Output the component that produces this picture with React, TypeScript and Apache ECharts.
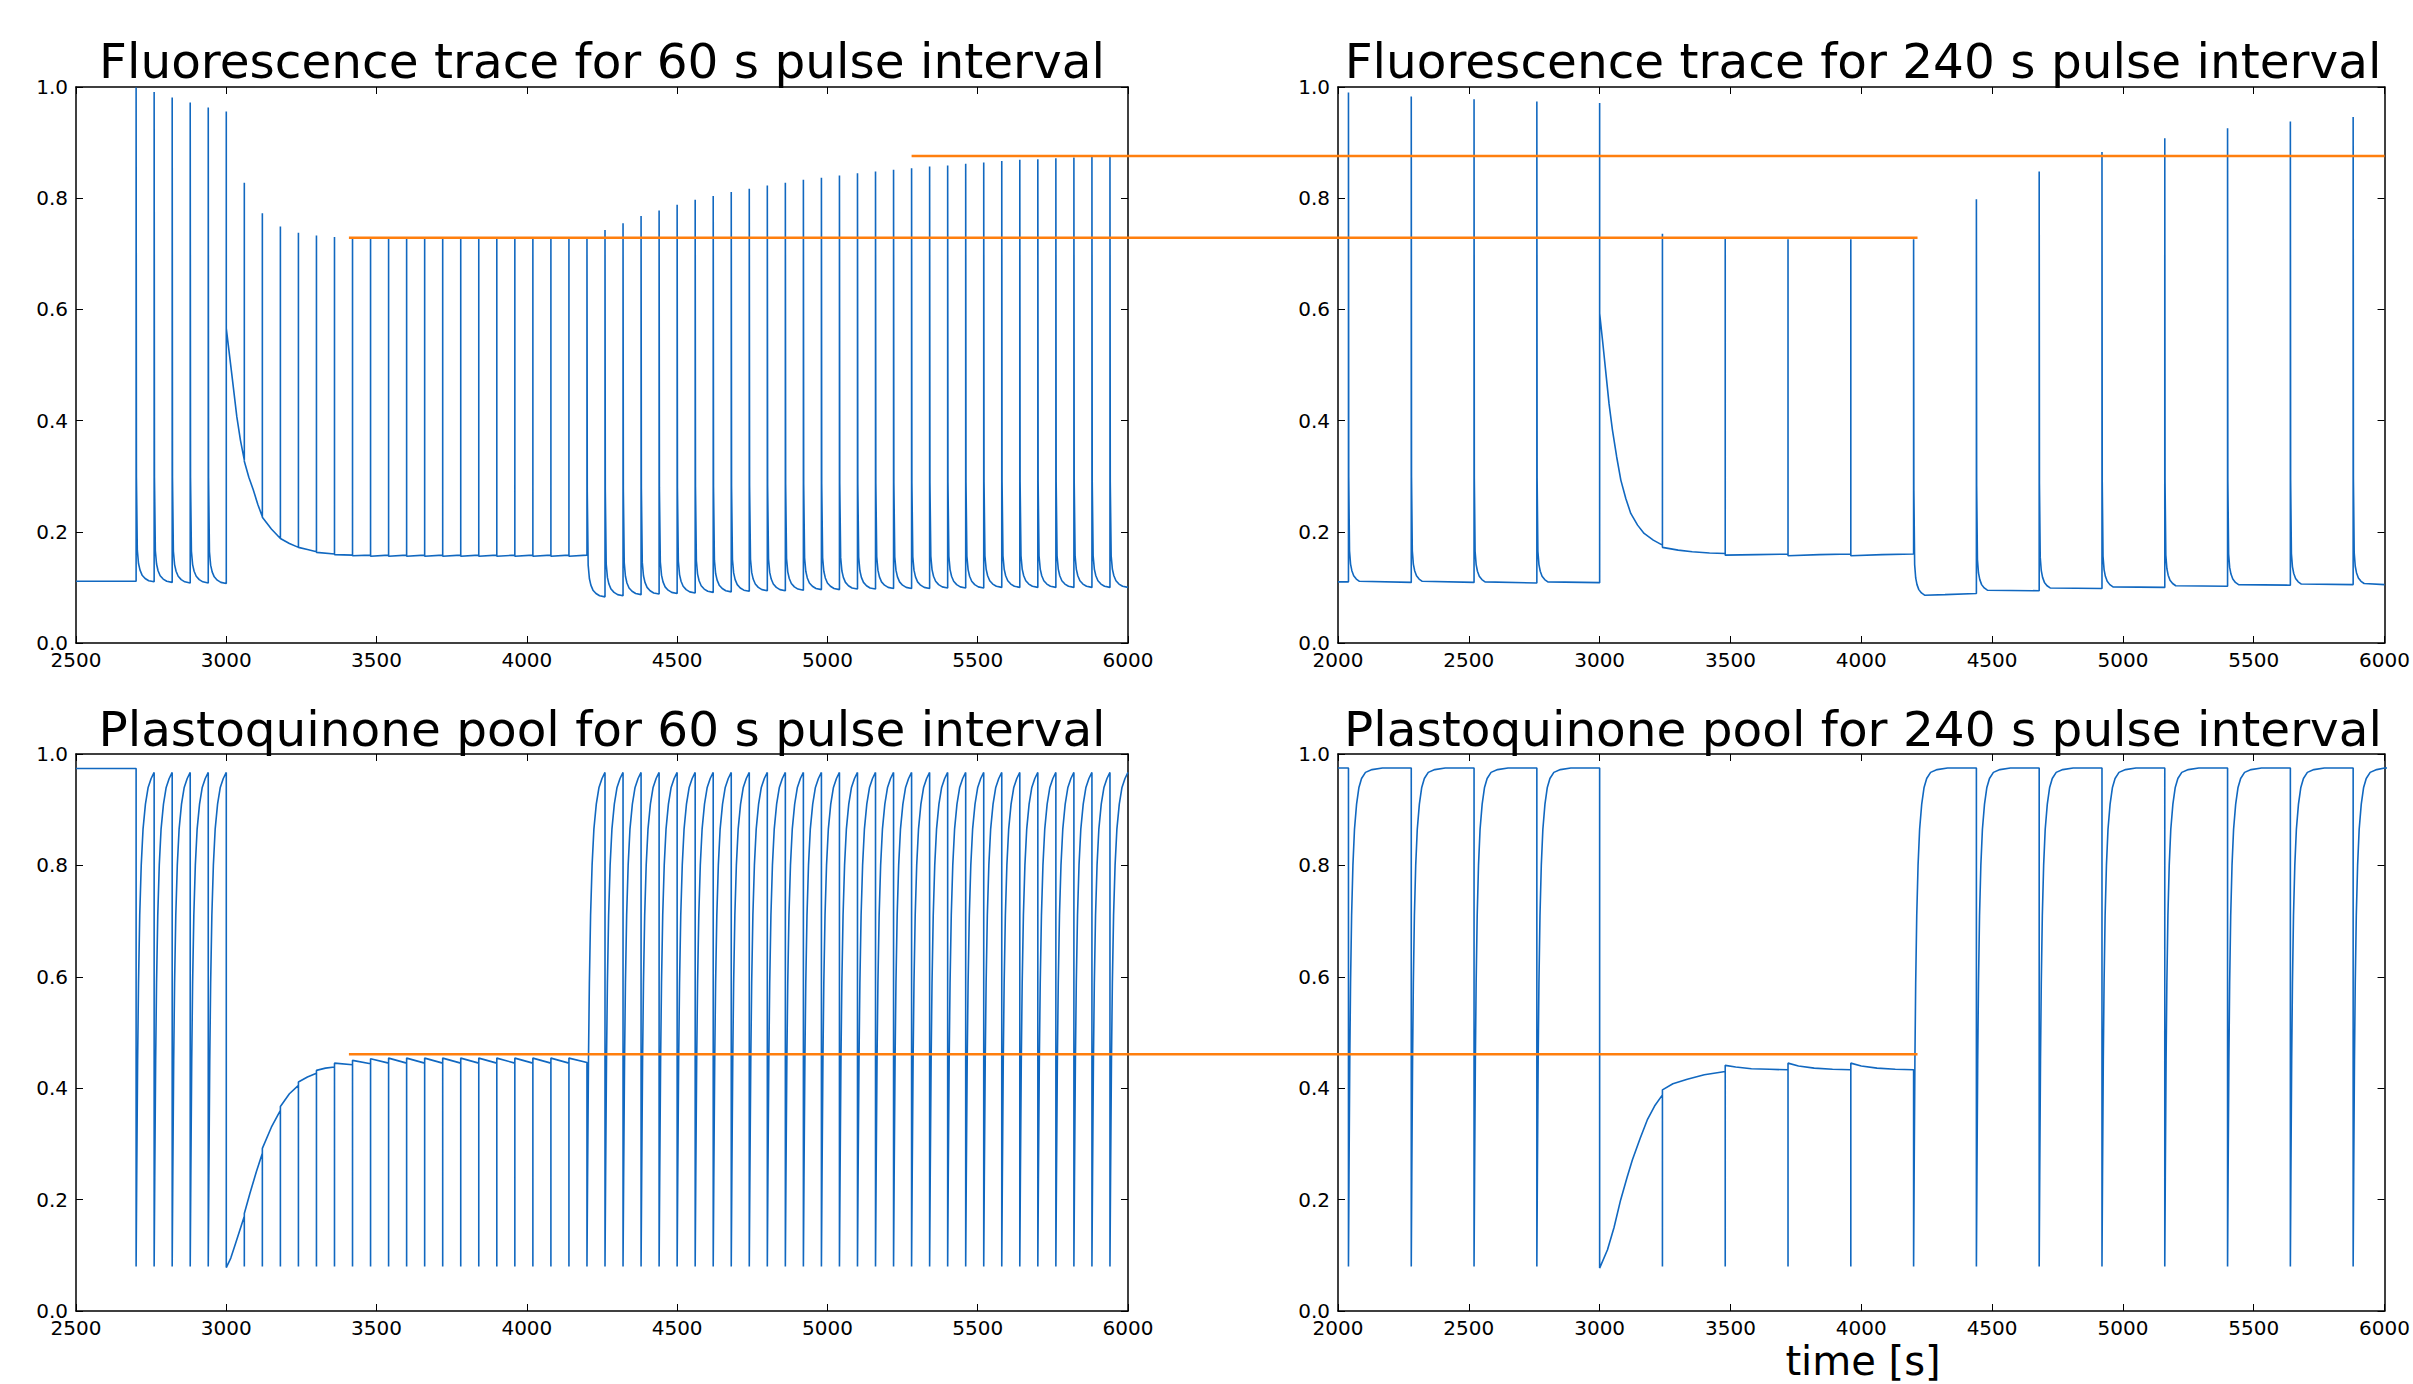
import React, { useEffect, useRef } from "react";
import * as echarts from "echarts";

// ---------------- texts ----------------
const TITLES = [
  "Fluorescence trace for 60 s pulse interval",
  "Fluorescence trace for 240 s pulse interval",
  "Plastoquinone pool for 60 s pulse interval",
  "Plastoquinone pool for 240 s pulse interval",
];
const X_LABEL = "time [s]";

// ---------------- axes ----------------
const X_RANGE_60 = [2500, 6000];
const X_RANGE_240 = [2000, 6000];
const X_TICK_STEP = 500;
const Y_RANGE = [0, 1];
const Y_TICK_STEP = 0.2;

// ---------------- shapes ----------------
// fluorescence tail after a saturating pulse: seconds after pulse / height above settle level
const FL_TAIL_OFFSETS = [1, 4, 8, 13, 20, 30, 42];
const FL_TAIL_EXCESS = [0.19, 0.057, 0.033, 0.021, 0.012, 0.006, 0.002];
// PQ pool recovery after a pulse: seconds after pulse / level
const PQ_RISE_OFFSETS = [2, 5, 8, 12, 17, 23, 31, 40, 50, 65, 90, 130];
const PQ_RISE_LEVELS = [0.24, 0.45, 0.59, 0.71, 0.8, 0.865, 0.91, 0.94, 0.956, 0.967, 0.972, 0.975];

// ---------------- Fluorescence, 60 s ----------------
// plain curve points [t, value]
const fl60Knots = [
  [2500, 0.111], [3018, 0.485], [3035, 0.407], [3047, 0.365], [3075, 0.298], [3090, 0.275],
  [3105, 0.249], [3150, 0.205], [3210, 0.179], [3270, 0.168], [6000, 0.1],
];
// instantaneous spikes [t, before, peak, after]
const fl60Spikes = [
  [3000, 0.107, 0.956, 0.566], [3060, 0.329, 0.828, 0.327], [3120, 0.227, 0.773, 0.226],
  [3180, 0.188, 0.749, 0.188], [3240, 0.172, 0.738, 0.172], [3300, 0.164, 0.733, 0.163],
  [3360, 0.16, 0.73, 0.159], [3420, 0.158, 0.728, 0.157], [3480, 0.158, 0.727, 0.156],
  [3540, 0.158, 0.727, 0.156], [3600, 0.158, 0.727, 0.156], [3660, 0.158, 0.727, 0.156],
  [3720, 0.158, 0.727, 0.156], [3780, 0.158, 0.727, 0.156], [3840, 0.158, 0.727, 0.156],
  [3900, 0.158, 0.727, 0.156], [3960, 0.158, 0.727, 0.156], [4020, 0.158, 0.727, 0.156],
  [4080, 0.158, 0.727, 0.156], [4140, 0.158, 0.727, 0.156],
];
// pulses with fast tail [t, before, peak, settle]
const fl60Pulses = [
  [2700, 0.111, 0.999, 0.11], [2760, 0.11, 0.991, 0.109], [2820, 0.109, 0.981, 0.108],
  [2880, 0.108, 0.972, 0.108], [2940, 0.108, 0.963, 0.107],
  [4200, 0.158, 0.727, 0.083], [4260, 0.083, 0.743, 0.085], [4320, 0.085, 0.755, 0.087],
  [4380, 0.087, 0.768, 0.088], [4440, 0.088, 0.778, 0.089], [4500, 0.089, 0.788, 0.09],
  [4560, 0.09, 0.797, 0.091], [4620, 0.091, 0.804, 0.092], [4680, 0.092, 0.811, 0.093],
  [4740, 0.093, 0.817, 0.094], [4800, 0.094, 0.823, 0.094], [4860, 0.094, 0.828, 0.095],
  [4920, 0.095, 0.833, 0.096], [4980, 0.096, 0.837, 0.096], [5040, 0.096, 0.841, 0.097],
  [5100, 0.097, 0.845, 0.097], [5160, 0.097, 0.848, 0.098], [5220, 0.098, 0.851, 0.098],
  [5280, 0.098, 0.854, 0.098], [5340, 0.098, 0.857, 0.099], [5400, 0.099, 0.859, 0.099],
  [5460, 0.099, 0.862, 0.099], [5520, 0.099, 0.864, 0.1], [5580, 0.1, 0.867, 0.1],
  [5640, 0.1, 0.869, 0.1], [5700, 0.1, 0.87, 0.1], [5760, 0.1, 0.872, 0.1],
  [5820, 0.1, 0.873, 0.1], [5880, 0.1, 0.874, 0.1], [5940, 0.1, 0.875, 0.1],
];

// ---------------- Fluorescence, 240 s ----------------
const fl240Knots = [
  [2000, 0.11], [3012, 0.54], [3024, 0.485], [3036, 0.43], [3049, 0.383], [3065, 0.335],
  [3081, 0.293], [3100, 0.26], [3119, 0.233], [3145, 0.212], [3170, 0.197], [3205, 0.185],
  [3300, 0.167], [3354, 0.164], [3420, 0.162], [3600, 0.159], [3840, 0.159], [4080, 0.159],
  [4320, 0.087], [6000, 0.105],
];
const fl240Spikes = [
  [3000, 0.1085, 0.971, 0.593], [3240, 0.176, 0.736, 0.172], [3480, 0.161, 0.727, 0.158],
  [3720, 0.16, 0.726, 0.157], [3960, 0.16, 0.726, 0.157],
];
const fl240Pulses = [
  [2040, 0.11, 0.99, 0.109], [2280, 0.109, 0.983, 0.109], [2520, 0.109, 0.978, 0.108],
  [2760, 0.108, 0.974, 0.108], [4200, 0.16, 0.726, 0.084], [4440, 0.089, 0.798, 0.093],
  [4680, 0.094, 0.848, 0.097], [4920, 0.098, 0.883, 0.099], [5160, 0.1, 0.908, 0.101],
  [5400, 0.102, 0.926, 0.103], [5640, 0.104, 0.938, 0.104], [5880, 0.105, 0.946, 0.105],
];

// ---------------- Plastoquinone pool, 60 s ----------------
const pq60Knots = [
  [2500, 0.974], [3015, 0.095], [3030, 0.12], [3045, 0.145], [3079, 0.212], [3100, 0.25],
  [3150, 0.33], [3210, 0.39], [3270, 0.42], [3330, 0.436], [6000, 0.967],
];
// spikes down [t, before, bottom, after]
const pq60Spikes = [
  [3000, 0.967, 0.078, 0.078], [3060, 0.17, 0.08, 0.175], [3120, 0.283, 0.08, 0.292],
  [3180, 0.36, 0.08, 0.367], [3240, 0.405, 0.08, 0.411], [3300, 0.427, 0.08, 0.432],
  [3360, 0.438, 0.08, 0.445], [3420, 0.442, 0.08, 0.45], [3480, 0.444, 0.08, 0.453],
  [3540, 0.445, 0.08, 0.454], [3600, 0.445, 0.08, 0.454], [3660, 0.445, 0.08, 0.454],
  [3720, 0.445, 0.08, 0.454], [3780, 0.445, 0.08, 0.454], [3840, 0.445, 0.08, 0.454],
  [3900, 0.445, 0.08, 0.454], [3960, 0.445, 0.08, 0.454], [4020, 0.445, 0.08, 0.454],
  [4080, 0.445, 0.08, 0.454], [4140, 0.445, 0.08, 0.454],
];
// pulses followed by recovery [t, before, bottom]
const pq60Pulses = [
  [2700, 0.974, 0.08], [2760, 0.967, 0.08], [2820, 0.967, 0.08], [2880, 0.967, 0.08],
  [2940, 0.967, 0.08], [4200, 0.446, 0.08], [4260, 0.967, 0.08], [4320, 0.967, 0.08],
  [4380, 0.967, 0.08], [4440, 0.967, 0.08], [4500, 0.967, 0.08], [4560, 0.967, 0.08],
  [4620, 0.967, 0.08], [4680, 0.967, 0.08], [4740, 0.967, 0.08], [4800, 0.967, 0.08],
  [4860, 0.967, 0.08], [4920, 0.967, 0.08], [4980, 0.967, 0.08], [5040, 0.967, 0.08],
  [5100, 0.967, 0.08], [5160, 0.967, 0.08], [5220, 0.967, 0.08], [5280, 0.967, 0.08],
  [5340, 0.967, 0.08], [5400, 0.967, 0.08], [5460, 0.967, 0.08], [5520, 0.967, 0.08],
  [5580, 0.967, 0.08], [5640, 0.967, 0.08], [5700, 0.967, 0.08], [5760, 0.967, 0.08],
  [5820, 0.967, 0.08], [5880, 0.967, 0.08], [5940, 0.967, 0.08],
];

// ---------------- Plastoquinone pool, 240 s ----------------
const pq240Knots = [
  [2000, 0.975], [3030, 0.11], [3055, 0.15], [3080, 0.199], [3105, 0.24], [3125, 0.271],
  [3155, 0.31], [3182, 0.343], [3210, 0.368], [3280, 0.408], [3335, 0.416], [3400, 0.424],
  [3520, 0.438], [3580, 0.435], [3650, 0.434], [3760, 0.44], [3820, 0.436], [3890, 0.434],
  [4000, 0.44], [4060, 0.436], [4130, 0.434], [6000, 0.975],
];
const pq240Spikes = [
  [3000, 0.975, 0.077, 0.077], [3240, 0.388, 0.08, 0.397], [3480, 0.43, 0.08, 0.441],
  [3720, 0.433, 0.08, 0.445], [3960, 0.433, 0.08, 0.445],
];
const pq240Pulses = [
  [2040, 0.975, 0.08], [2280, 0.975, 0.08], [2520, 0.975, 0.08], [2760, 0.975, 0.08],
  [4200, 0.433, 0.08], [4440, 0.975, 0.08], [4680, 0.975, 0.08], [4920, 0.975, 0.08],
  [5160, 0.975, 0.08], [5400, 0.975, 0.08], [5640, 0.975, 0.08], [5880, 0.975, 0.08],
];

// orange reference lines joining panels: [panel, t, value]
const CONNECTORS = [
  { from: [0, 5280, 0.876], to: [1, 6000, 0.876] },
  { from: [0, 3408, 0.729], to: [1, 4215, 0.729] },
  { from: [2, 3408, 0.461], to: [3, 4215, 0.461] },
];

const BLUE = "#1168c0";
const ORANGE = "#ff7f0e";
const FONT = "DejaVu Sans";

type Pt = [number, number];

function buildTrace(
  knots: number[][],
  spikes: number[][],
  flPulses: number[][],
  pqPulses: number[][],
  riseMax: number
): Pt[] {
  const pts: Pt[] = [];
  knots.forEach((k) => pts.push([k[0], k[1]]));
  spikes.forEach(([t, b, e, a]) => {
    pts.push([t, b], [t, e], [t, a]);
  });
  flPulses.forEach(([t, b, p, s]) => {
    pts.push([t, b], [t, p]);
    FL_TAIL_OFFSETS.forEach((o, i) => pts.push([t + o, s + FL_TAIL_EXCESS[i]]));
  });
  pqPulses.forEach(([t, b, bottom]) => {
    pts.push([t, b], [t, bottom]);
    PQ_RISE_OFFSETS.forEach((o, i) => {
      if (o <= riseMax) pts.push([t + o, PQ_RISE_LEVELS[i]]);
    });
  });
  pts.sort((a, b) => a[0] - b[0]);
  return pts;
}

const TRACES = [
  buildTrace(fl60Knots, fl60Spikes, fl60Pulses, [], 0),
  buildTrace(fl240Knots, fl240Spikes, fl240Pulses, [], 0),
  buildTrace(pq60Knots, pq60Spikes, [], pq60Pulses, 55),
  buildTrace(pq240Knots, pq240Spikes, [], pq240Pulses, 200),
];
const X_RANGES = [X_RANGE_60, X_RANGE_240, X_RANGE_60, X_RANGE_240];

const GRIDS = [
  { left: 76, top: 87, width: 1052, height: 556 },
  { left: 1338, top: 87, width: 1050, height: 556 },
  { left: 76, top: 754, width: 1052, height: 557 },
  { left: 1338, top: 754, width: 1050, height: 557 },
];

const AXIS_COMMON = {
  axisLine: { show: true, onZero: false, lineStyle: { color: "#000", width: 1.5 } },
  axisTick: { show: true, inside: true, length: 7, lineStyle: { color: "#000", width: 1 } },
  splitLine: { show: false },
};

export default function App() {
  const ref = useRef<HTMLDivElement>(null);
  useEffect(() => {
    if (!ref.current) return;
    const chart = echarts.init(ref.current, null, { renderer: "svg" });
    const xAxis: any[] = [];
    const yAxis: any[] = [];
    const series: any[] = [];
    GRIDS.forEach((g, i) => {
      const [mn, mx] = X_RANGES[i];
      ["bottom", "top"].forEach((pos) => {
        xAxis.push({
          type: "value",
          gridIndex: i,
          position: pos,
          min: mn,
          max: mx,
          interval: X_TICK_STEP,
          ...AXIS_COMMON,
          axisLabel: {
            show: pos === "bottom",
            margin: 7,
            fontSize: 20,
            fontFamily: FONT,
            color: "#000",
            showMinLabel: true,
            showMaxLabel: true,
            formatter: (v: number) => String(Math.round(v)),
          },
        });
      });
      ["left", "right"].forEach((pos) => {
        yAxis.push({
          type: "value",
          gridIndex: i,
          position: pos,
          min: Y_RANGE[0],
          max: Y_RANGE[1],
          interval: Y_TICK_STEP,
          ...AXIS_COMMON,
          axisLabel: {
            show: pos === "left",
            margin: 8,
            fontSize: 20,
            fontFamily: FONT,
            color: "#000",
            formatter: (v: number) => v.toFixed(1),
          },
        });
      });
      series.push({
        type: "line",
        xAxisIndex: 2 * i,
        yAxisIndex: 2 * i,
        data: TRACES[i],
        showSymbol: false,
        symbol: "none",
        clip: true,
        silent: true,
        lineStyle: { color: BLUE, width: 1.6 },
        itemStyle: { color: BLUE },
        z: 2,
      });
    });
    chart.setOption({
      animation: false,
      backgroundColor: "#fff",
      textStyle: { fontFamily: FONT },
      grid: GRIDS.map((g) => ({ ...g, containLabel: false })),
      xAxis,
      yAxis,
      series,
    });

    const centers = GRIDS.map((g) => g.left + g.width / 2);
    const texts: any[] = TITLES.map((t, i) => ({
      type: "text",
      x: centers[i],
      y: i < 2 ? 61 : 729,
      silent: true,
      style: {
        text: t,
        fontSize: 48.5,
        fontFamily: FONT,
        fill: "#000",
        align: "center",
        verticalAlign: "middle",
      },
    }));
    texts.push({
      type: "text",
      x: centers[3],
      y: 1361,
      silent: true,
      style: {
        text: X_LABEL,
        fontSize: 40,
        fontFamily: FONT,
        fill: "#000",
        align: "center",
        verticalAlign: "middle",
      },
    });
    const lines = CONNECTORS.map((c) => {
      const p1 = chart.convertToPixel({ gridIndex: c.from[0] } as any, [c.from[1], c.from[2]]) as number[];
      const p2 = chart.convertToPixel({ gridIndex: c.to[0] } as any, [c.to[1], c.to[2]]) as number[];
      return {
        type: "line",
        silent: true,
        z: 10,
        shape: { x1: p1[0], y1: p1[1], x2: p2[0], y2: p2[1] },
        style: { stroke: ORANGE, lineWidth: 2.5 },
      };
    });
    chart.setOption({ graphic: [...texts, ...lines] });
    return () => chart.dispose();
  }, []);
  return (
    <div
      ref={ref}
      style={{ position: "fixed", left: 0, top: 0, width: 2413, height: 1384, background: "#fff" }}
    />
  );
}
